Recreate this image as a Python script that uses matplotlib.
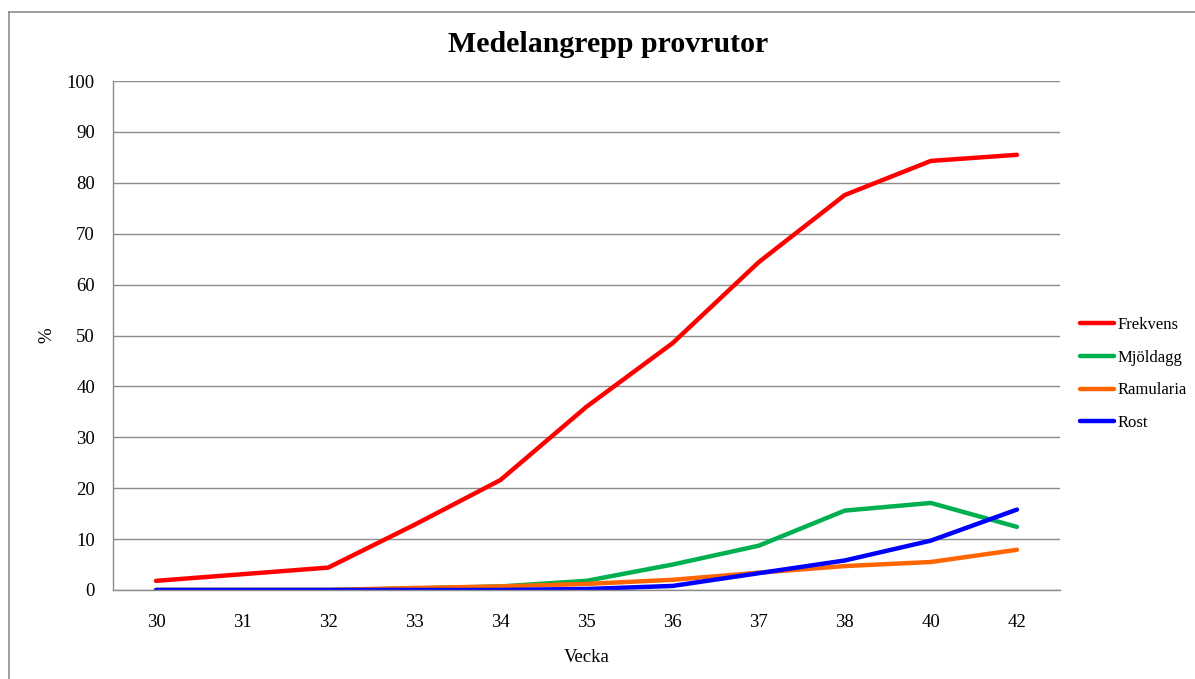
import matplotlib
matplotlib.use("Agg")
import matplotlib.pyplot as plt
from matplotlib.lines import Line2D

weeks = ["30", "31", "32", "33", "34", "35", "36", "37", "38", "40", "42"]
frekvens = [1.8, 3.1, 4.4, 12.8, 21.6, 36.0, 48.5, 64.4, 77.6, 84.3, 85.5]
mjoldagg = [0.0, 0.0, 0.0, 0.3, 0.7, 1.8, 5.0, 8.7, 15.6, 17.1, 12.4]
ramularia = [0.0, 0.0, 0.0, 0.4, 0.7, 1.2, 2.0, 3.4, 4.7, 5.5, 7.9]
rost = [0.0, 0.0, 0.0, 0.0, 0.0, 0.2, 0.8, 3.3, 5.8, 9.7, 15.8]

series = [("Frekvens", frekvens, "#ff0000"),
          ("Mjöldagg", mjoldagg, "#00b050"),
          ("Ramularia", ramularia, "#ff6600"),
          ("Rost", rost, "#0000ff")]

plt.rcParams['font.family'] = ['Liberation Serif', 'DejaVu Serif']

W, H = 1195, 679
fig = plt.figure(figsize=(W / 100, H / 100), dpi=100)
ax = fig.add_axes([113 / W, 1 - 590 / H, (1060 - 113) / W, (590 - 81) / H])

x = list(range(len(weeks)))
for name, vals, col in series:
    ax.plot(x, vals, color=col, lw=3.2, solid_capstyle='round', label=name)

ax.set_xlim(-0.5, len(weeks) - 0.5)
ax.set_ylim(0, 100)
ax.set_yticks(range(0, 101, 10))
ax.set_xticks(x)
ax.set_xticklabels(weeks)
ax.tick_params(length=0, labelsize=13.5, colors='black')
ax.tick_params(axis='x', pad=17)
ax.tick_params(axis='y', pad=13)
ax.grid(axis='y', color='#8c8c8c', lw=1)
ax.set_axisbelow(True)
for s in ['top', 'right']:
    ax.spines[s].set_visible(False)
for s in ['left', 'bottom']:
    ax.spines[s].set_color('#8c8c8c')
    ax.spines[s].set_linewidth(1)

ax.set_xlabel("Vecka", fontsize=13.5, labelpad=13)
ax.set_ylabel("%", fontsize=13.5, labelpad=8)

fig.text(608 / W, 1 - 44 / H, "Medelangrepp provrutor", ha='center', va='center',
         fontsize=21.5, fontweight='bold')

handles = [Line2D([0], [0], color=c, lw=3.2, solid_capstyle='round') for _, _, c in series]
leg = fig.legend(handles, [n for n, _, _ in series], loc='center left',
                 bbox_to_anchor=(1072 / W, 1 - 374 / H), frameon=False,
                 fontsize=12, handlelength=2.0, handletextpad=0.25,
                 labelspacing=1.0, borderpad=0)

# outer chart border
fig.add_artist(Line2D([9 / W, 9 / W], [0, 1 - 12 / H], color='#8c8c8c', lw=1.2,
                      transform=fig.transFigure))
fig.add_artist(Line2D([9 / W, 1], [1 - 12 / H, 1 - 12 / H], color='#8c8c8c', lw=1.2,
                      transform=fig.transFigure))

fig.savefig("out.png", dpi=100)
